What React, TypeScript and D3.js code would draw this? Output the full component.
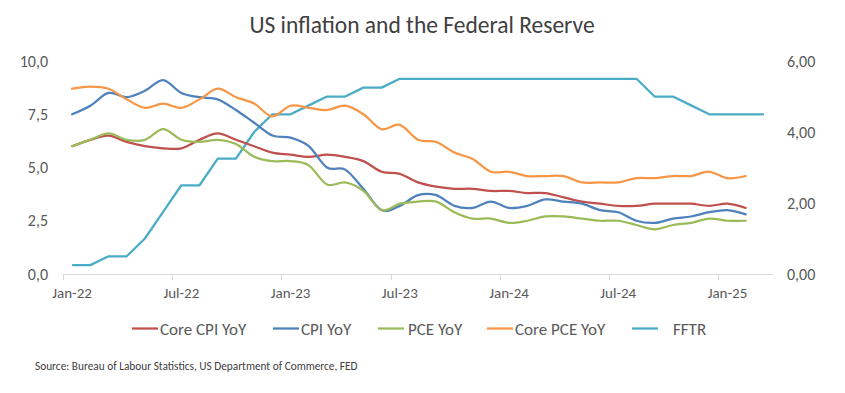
import React, { useEffect, useRef } from "react";
import * as d3 from "d3";

// Monthly data, Jan-22 .. Feb-25 (inflation) and Jan-22 .. Mar-25 (FFTR)
const coreCpi = [
  6.0, 6.3, 6.5, 6.2, 6.0, 5.9, 5.9, 6.3, 6.6, 6.3, 6.0, 5.7,
  5.6, 5.5, 5.6, 5.5, 5.3, 4.8, 4.7, 4.3, 4.1, 4.0, 4.0, 3.9,
  3.9, 3.8, 3.8, 3.6, 3.4, 3.3, 3.2, 3.2, 3.3, 3.3, 3.3, 3.2,
  3.3, 3.1,
];
const cpi = [
  7.5, 7.9, 8.5, 8.3, 8.6, 9.1, 8.5, 8.3, 8.2, 7.7, 7.1, 6.5,
  6.4, 6.0, 5.0, 4.9, 4.0, 3.0, 3.2, 3.7, 3.7, 3.2, 3.1, 3.4,
  3.1, 3.2, 3.5, 3.4, 3.3, 3.0, 2.9, 2.5, 2.4, 2.6, 2.7, 2.9,
  3.0, 2.8,
];
const pce = [
  6.0, 6.3, 6.6, 6.3, 6.3, 6.8, 6.3, 6.2, 6.3, 6.1, 5.5, 5.3,
  5.3, 5.1, 4.2, 4.3, 3.9, 3.0, 3.3, 3.4, 3.4, 2.9, 2.6, 2.6,
  2.4, 2.5, 2.7, 2.7, 2.6, 2.5, 2.5, 2.3, 2.1, 2.3, 2.4, 2.6,
  2.5, 2.5,
];
const corePce = [
  8.7, 8.8, 8.7, 8.2, 7.8, 8.0, 7.8, 8.2, 8.7, 8.3, 8.0, 7.4,
  7.9, 7.8, 7.7, 7.9, 7.5, 6.8, 7.0, 6.3, 6.2, 5.7, 5.4, 4.8,
  4.8, 4.6, 4.6, 4.6, 4.3, 4.3, 4.3, 4.5, 4.5, 4.6, 4.6, 4.8,
  4.5, 4.6,
];
const fftr = [
  0.25, 0.25, 0.5, 0.5, 1.0, 1.75, 2.5, 2.5, 3.25, 3.25, 4.0, 4.5,
  4.5, 4.75, 5.0, 5.0, 5.25, 5.25, 5.5, 5.5, 5.5, 5.5, 5.5, 5.5,
  5.5, 5.5, 5.5, 5.5, 5.5, 5.5, 5.5, 5.5, 5.0, 5.0, 4.75, 4.5,
  4.5, 4.5, 4.5,
];

const monthCount = 39;
const xTickMonths = [0, 6, 12, 18, 24, 30, 36];
const xTickLabels = ["Jan-22", "Jul-22", "Jan-23", "Jul-23", "Jan-24", "Jul-24", "Jan-25"];
const leftTicks = [0, 2.5, 5, 7.5, 10];
const rightTicks = [0, 2, 4, 6];

const seriesNames = ["Core CPI YoY", "CPI YoY", "PCE YoY", "Core PCE YoY", "FFTR"];
const seriesColors = ["#c0504d", "#4f81bd", "#9bbb59", "#f79646", "#4bacc6"];

const FONT = "Carlito, Lato, sans-serif";

const App = () => {
  const svgRef = useRef<SVGSVGElement>(null);

  useEffect(() => {
    const width = 845;
    const height = 393;
    const plot = { left: 63, right: 773, top: 61, bottom: 274 };

    const svg = d3.select(svgRef.current);
    svg.selectAll("*").remove();
    svg.attr("width", width).attr("height", height).style("background", "#fff");

    const x = d3.scaleLinear().domain([0, monthCount]).range([plot.left, plot.right]);
    const yLeft = d3.scaleLinear().domain([0, 10]).range([plot.bottom, plot.top]);
    const yRight = d3.scaleLinear().domain([0, 6]).range([plot.bottom, plot.top]);

    // Title
    svg
      .append("text")
      .attr("x", 422)
      .attr("y", 33)
      .attr("text-anchor", "middle")
      .style("font-family", FONT)
      .style("font-size", "23.5px")
      .style("fill", "#404040")
      .text("US inflation and the Federal Reserve");

    // Left axis labels
    svg
      .append("g")
      .selectAll("text")
      .data(leftTicks)
      .enter()
      .append("text")
      .attr("x", 48)
      .attr("y", (d) => yLeft(d))
      .attr("dy", "0.35em")
      .attr("text-anchor", "end")
      .style("font-family", FONT)
      .style("font-size", "16px")
      .style("fill", "#595959")
      .text((d) => d3.format(".1f")(d).replace(".", ","));

    // Right axis labels
    svg
      .append("g")
      .selectAll("text")
      .data(rightTicks)
      .enter()
      .append("text")
      .attr("x", 787)
      .attr("y", (d) => yRight(d))
      .attr("dy", "0.35em")
      .attr("text-anchor", "start")
      .style("font-family", FONT)
      .style("font-size", "16px")
      .style("fill", "#595959")
      .text((d) => d3.format(".2f")(d).replace(".", ","));

    // X axis line and ticks
    const xAxis = svg.append("g");
    xAxis
      .append("line")
      .attr("x1", plot.left)
      .attr("x2", plot.right)
      .attr("y1", plot.bottom + 0.5)
      .attr("y2", plot.bottom + 0.5)
      .style("stroke", "#d9d9d9")
      .style("stroke-width", 1);

    xAxis
      .selectAll(".tick")
      .data(xTickMonths)
      .enter()
      .append("line")
      .attr("x1", (d) => Math.round(x(d)) + 0.5)
      .attr("x2", (d) => Math.round(x(d)) + 0.5)
      .attr("y1", plot.bottom)
      .attr("y2", plot.bottom + 6)
      .style("stroke", "#d9d9d9")
      .style("stroke-width", 1);

    xAxis
      .selectAll(".label")
      .data(xTickMonths)
      .enter()
      .append("text")
      .attr("x", (d) => x(d + 0.5))
      .attr("y", 298)
      .attr("text-anchor", "middle")
      .style("font-family", FONT)
      .style("font-size", "15px")
      .style("fill", "#595959")
      .text((d, i) => xTickLabels[i]);

    // Smoothed inflation lines (left axis), FFTR straight (right axis)
    const smooth = d3
      .line<number>()
      .x((d, i) => x(i + 0.5))
      .y((d) => yLeft(d))
      .curve(d3.curveCardinal.tension(0));

    const straight = d3
      .line<number>()
      .x((d, i) => x(i + 0.5))
      .y((d) => yRight(d));

    const linesGroup = svg.append("g").attr("fill", "none");

    linesGroup
      .append("path")
      .attr("d", straight(fftr))
      .style("stroke", seriesColors[4])
      .style("stroke-width", 2.25)
      .style("stroke-linejoin", "round");

    [coreCpi, cpi, pce, corePce].forEach((values, k) => {
      linesGroup
        .append("path")
        .attr("d", smooth(values))
        .style("fill", "none")
        .style("stroke", seriesColors[k])
        .style("stroke-width", 2.25)
        .style("stroke-linecap", "round");
    });

    // Legend
    const legendItems = [
      { lineX: 132, textX: 160 },
      { lineX: 273, textX: 301 },
      { lineX: 378, textX: 408 },
      { lineX: 487, textX: 515 },
      { lineX: 632, textX: 673 },
    ];
    const legend = svg.append("g");
    legendItems.forEach((item, i) => {
      legend
        .append("line")
        .attr("x1", item.lineX)
        .attr("x2", item.lineX + 26)
        .attr("y1", 328.5)
        .attr("y2", 328.5)
        .style("stroke", seriesColors[i])
        .style("stroke-width", 2.25);
      legend
        .append("text")
        .attr("x", item.textX)
        .attr("y", 334.5)
        .style("font-family", FONT)
        .style("font-size", "17px")
        .style("fill", "#595959")
        .text(seriesNames[i]);
    });

    // Source note
    svg
      .append("text")
      .attr("x", 35)
      .attr("y", 370)
      .style("font-family", FONT)
      .style("font-size", "11.3px")
      .style("fill", "#404040")
      .text("Source: Bureau of Labour Statistics, US Department of Commerce, FED");
  }, []);

  return (
    <div>
      <style>{`body{margin:0;}`}</style>
      <svg ref={svgRef} style={{ display: "block" }} />
    </div>
  );
};

export default App;
